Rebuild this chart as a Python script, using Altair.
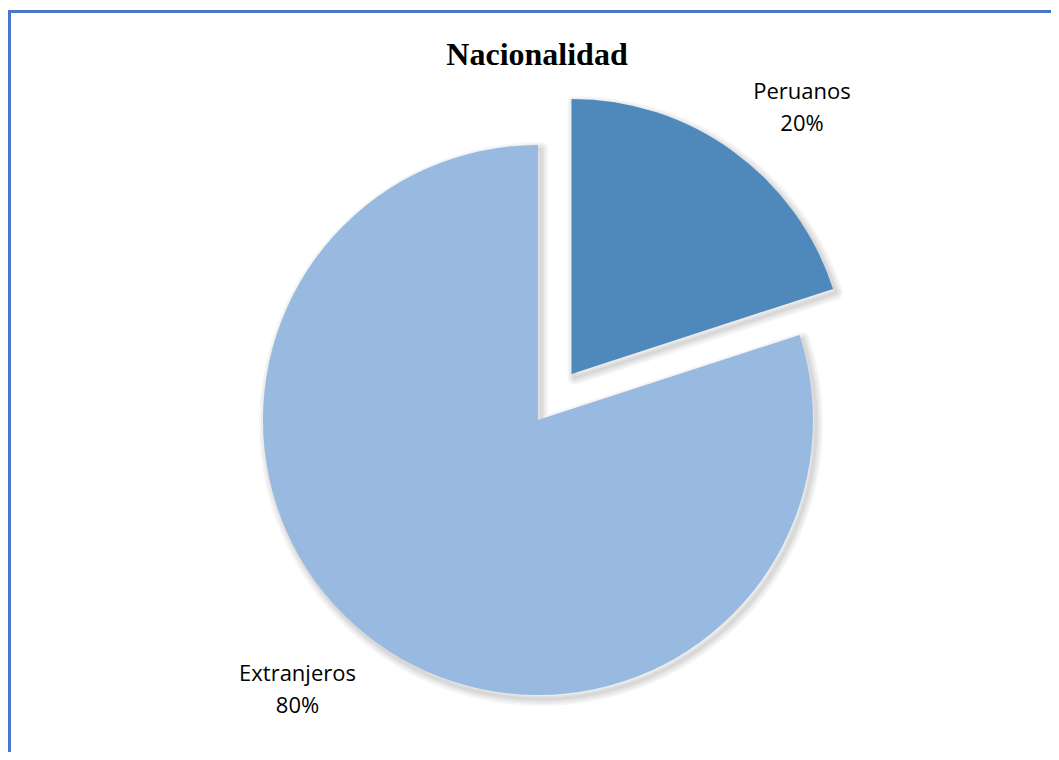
import altair as alt
import pandas as pd

# ---- data ----
title_text = "Nacionalidad"
categories = ["Peruanos", "Extranjeros"]
values = [20, 80]
colors = ["#4F89BC", "#98B9E0"]

df = pd.DataFrame({"category": categories, "value": values, "order": list(range(len(categories)))})

W, H = 1043, 744
CX, CY = 530, 412
R = 275
EXPLODE = 57
LABEL_R = 357

base = (
    alt.Chart(df)
    .transform_joinaggregate(total="sum(value)")
    .transform_window(cum="sum(value)", frame=[None, 0], sort=[alt.SortField("order")])
    .transform_calculate(
        start="2*PI*(datum.cum - datum.value)/datum.total",
        end="2*PI*datum.cum/datum.total",
    )
    .transform_calculate(mid="(datum.start + datum.end)/2")
    .transform_calculate(ex=f"datum.category == 'Peruanos' ? {EXPLODE} : 0")
    .transform_calculate(
        px=f"{CX} + datum.ex*sin(datum.mid)",
        py=f"{CY} - datum.ex*cos(datum.mid)",
    )
    .transform_calculate(
        sx="datum.px + 3",
        sy="datum.py + 4",
        lx=f"datum.px + {LABEL_R}*sin(datum.mid + 0.092)",
        ly=f"datum.py - {LABEL_R}*cos(datum.mid + 0.092)",
        pct="format(datum.value/datum.total, '.0%')",
    )
)

shadows = []
for w in [14, 10, 6, 3]:
    shadows.append(
        base.mark_arc(outerRadius=R, fillOpacity=0, stroke="black", strokeOpacity=0.04,
                      strokeWidth=w, strokeJoin="round")
        .encode(
            theta=alt.Theta("start:Q", scale=None),
            theta2="end:Q",
            x=alt.X("sx:Q", scale=None),
            y=alt.Y("sy:Q", scale=None),
        )
    )

arcs = base.mark_arc(outerRadius=R).encode(
    theta=alt.Theta("start:Q", scale=None),
    theta2="end:Q",
    x=alt.X("px:Q", scale=None),
    y=alt.Y("py:Q", scale=None),
    color=alt.Color("category:N", scale=alt.Scale(domain=categories, range=colors), legend=None),
)

name_text = base.mark_text(font="Open Sans", fontSize=22, color="#000000", align="center",
                           baseline="alphabetic", dx=-5, dy=-7).encode(
    x=alt.X("lx:Q", scale=None), y=alt.Y("ly:Q", scale=None), text="category:N"
)
pct_text = base.mark_text(font="Open Sans", fontSize=22, color="#000000", align="center",
                          baseline="alphabetic", dx=-5, dy=25).encode(
    x=alt.X("lx:Q", scale=None), y=alt.Y("ly:Q", scale=None), text="pct:N"
)

one = alt.Data(values=[{}])
title = alt.Chart(one).mark_text(font="Liberation Serif", fontSize=32, fontWeight="bold",
                                 color="black", align="center", baseline="alphabetic").encode(
    x=alt.value(529), y=alt.value(57), text=alt.value(title_text)
)

border_top = alt.Chart(one).mark_rule(color="#4A78C8", strokeWidth=3).encode(
    x=alt.value(0), x2=alt.value(W), y=alt.value(3.5)
)
border_left = alt.Chart(one).mark_rule(color="#4A78C8", strokeWidth=3).encode(
    x=alt.value(1.5), y=alt.value(2), y2=alt.value(H)
)

chart = alt.layer(*shadows, arcs, name_text, pct_text, title, border_top, border_left).properties(
    width=W, height=H, autosize=alt.AutoSizeParams(type="none"), padding=0
).configure_view(strokeWidth=0)

chart.save("out.html", embed_options={"renderer": "svg", "actions": False})
